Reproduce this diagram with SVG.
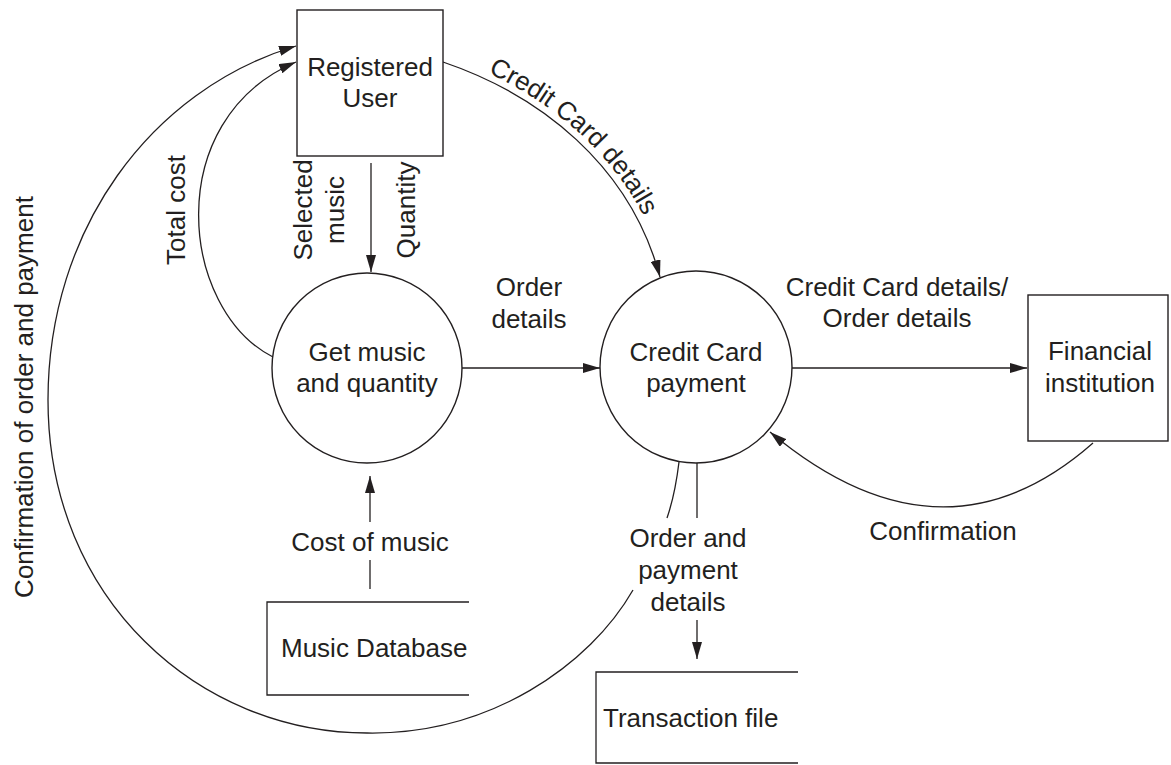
<svg xmlns="http://www.w3.org/2000/svg" width="1171" height="765" viewBox="0 0 1171 765">
<style>
.box{fill:#fff;stroke:#231f20;stroke-width:1.4}
.ln{fill:none;stroke:#231f20;stroke-width:1.3}
.arr{marker-end:url(#ah)}
text{font-family:"Liberation Sans",Arial,Helvetica,sans-serif;font-size:26px;fill:#231f20}
.c{text-anchor:middle}
</style>
<defs>
<marker id="ah" markerUnits="userSpaceOnUse" markerWidth="17" markerHeight="10" refX="17" refY="5" orient="auto">
<path d="M0,0 L17,5 L0,10 z" fill="#231f20"/>
</marker>
<path id="ccpath" d="M446,56 C543,89 636,160 666,275"/>
</defs>

<g id="connectors">
<!-- Registered User -> Get music -->
<path class="ln arr" d="M371,163 L371,272"/>
<!-- Total cost -->
<path class="ln arr" d="M273,357 C180,310 160,120 296,62"/>
<!-- Credit Card details -->
<path class="ln arr" d="M443,62 C540,95 630,165 660,277"/>
<!-- Order details -->
<path class="ln arr" d="M462,368 L600,368"/>
<!-- Cost of music -->
<path class="ln" d="M370,589 L370,560"/>
<path class="ln arr" d="M370,522 L370,476"/>
<!-- CC -> Financial -->
<path class="ln arr" d="M792,368 L1027,368"/>
<!-- Confirmation -->
<path class="ln arr" d="M1093,443 Q942,576 770,432"/>
<!-- Order and payment details -->
<path class="ln" d="M697,463 L697,518"/>
<path class="ln arr" d="M697,620 L697,659"/>
<!-- Confirmation of order and payment -->
<path class="ln" d="M679,462 Q675,495 667,518"/>
<path class="ln arr" d="M633,590 C590,665 490,735 367,733 C200,733 48,600 48,400 C48,230 150,90 296,46"/>

<text class="c" transform="translate(33,397) rotate(-90)">Confirmation of order and payment</text>
<text class="c" transform="translate(185,210) rotate(-90)">Total cost</text>
<text class="c" transform="translate(312,210) rotate(-90)">Selected</text>
<text class="c" transform="translate(344,210) rotate(-90)">music</text>
<text class="c" transform="translate(415,210) rotate(-90)">Quantity</text>
<text><textPath href="#ccpath" startOffset="153" text-anchor="middle">Credit Card details</textPath></text>
<text class="c" x="529" y="296">Order</text>
<text class="c" x="529" y="328">details</text>
<text class="c" x="897" y="296">Credit Card details/</text>
<text class="c" x="897" y="327">Order details</text>
<text class="c" x="943" y="540">Confirmation</text>
<text class="c" x="370" y="551">Cost of music</text>
<text class="c" x="688" y="547">Order and</text>
<text class="c" x="688" y="579">payment</text>
<text class="c" x="688" y="611">details</text>
</g>

<g id="registered-user">
<rect class="box" x="297" y="10" width="146" height="146"/>
<text class="c" x="370" y="76">Registered</text>
<text class="c" x="370" y="107">User</text>
</g>

<g id="get-music">
<circle class="box" cx="367" cy="368" r="95"/>
<text class="c" x="367" y="361">Get music</text>
<text class="c" x="367" y="392">and quantity</text>
</g>

<g id="credit-card-payment">
<circle class="box" cx="696" cy="367" r="96"/>
<text class="c" x="696" y="361">Credit Card</text>
<text class="c" x="696" y="392">payment</text>
</g>

<g id="financial-institution">
<rect class="box" x="1028" y="295" width="140" height="146"/>
<text class="c" x="1100" y="360">Financial</text>
<text class="c" x="1100" y="392">institution</text>
</g>

<g id="music-database">
<path class="ln" d="M469,602 L267,602 L267,695 L469,695"/>
<text x="281" y="657">Music Database</text>
</g>

<g id="transaction-file">
<path class="ln" d="M798,672 L596,672 L596,763 L798,763"/>
<text x="603" y="727">Transaction file</text>
</g>
</svg>
